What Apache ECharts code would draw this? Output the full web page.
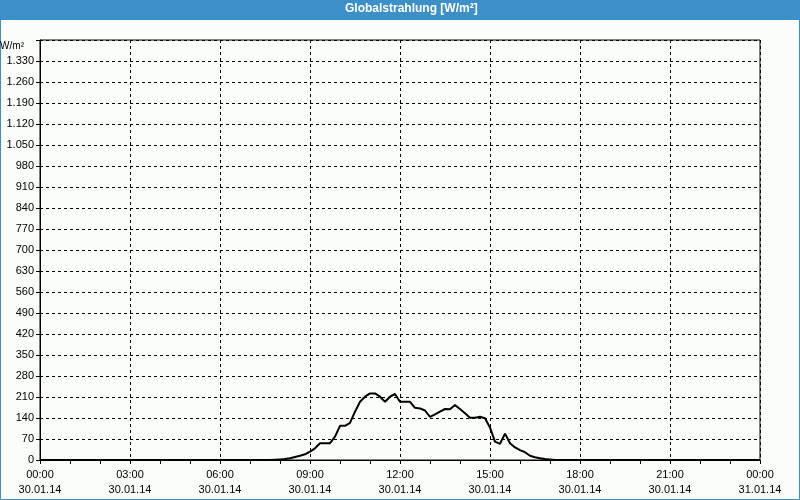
<!DOCTYPE html>
<html>
<head>
<meta charset="utf-8">
<script src="https://cdn.jsdelivr.net/npm/echarts@6/dist/echarts.min.js"></script>
<style>
html,body{margin:0;padding:0;background:#fbfdfb;}
#c{width:800px;height:500px;}
</style>
</head>
<body>
<div id="c"></div>
<script>
var chartTitle = 'Globalstrahlung [W/m²]';
var unitLabel = 'W/m²';
var xTickLabels = ['00:00\n30.01.14','03:00\n30.01.14','06:00\n30.01.14','09:00\n30.01.14','12:00\n30.01.14','15:00\n30.01.14','18:00\n30.01.14','21:00\n30.01.14','00:00\n31.01.14'];
var times = ['00:00','07:40','07:50','08:00','08:10','08:20','08:30','08:40','08:50',
  '09:00','09:10','09:20','09:30','09:40','09:50','10:00','10:10','10:20','10:30','10:40','10:50',
  '11:00','11:10','11:20','11:30','11:40','11:50','12:00','12:10','12:20','12:30','12:40','12:50',
  '13:00','13:10','13:20','13:30','13:40','13:50','14:00','14:10','14:20','14:30','14:40','14:50',
  '15:00','15:10','15:20','15:30','15:40','15:50','16:00','16:10','16:20','16:30','16:40','16:50',
  '17:00','17:10','24:00'];
var radiation = [0,0,1,2,3,6,10,14,19,
  28,39,56,56,56,78,114,114,124,161,194,211,
  222,222,211,194,211,220,194,194,194,174,172,165,
  144,152,161,170,169,183,170,156,141,141,144,139,
  108,61,54,88,56,42,33,26,14,9,6,3,
  2,0,0];

function toMinutes(s){var p=s.split(':');return (+p[0])*60+(+p[1]);}
var seriesData = times.map(function(t,i){return [toMinutes(t), radiation[i]];});

function fmtY(v){
  if (v >= 1400) return '';
  if (v >= 1000) { var s = String(v); return s.slice(0, s.length-3) + '.' + s.slice(-3); }
  return String(v);
}

var font = 'Liberation Sans, Arial, sans-serif';
var chart = echarts.init(document.getElementById('c'), null, {renderer:'canvas'});
chart.setOption({
  animation:false,
  backgroundColor:'#fbfdfb',
  graphic:[
    {type:'rect', shape:{x:0, y:0, width:800, height:20}, style:{fill:'#3d8fc7'}, z:0},
    {type:'rect', shape:{x:0.5, y:0.5, width:799, height:499}, style:{fill:null, stroke:'#3d8fc7', lineWidth:1}, z:0},
    {type:'text', x:345, y:3, style:{text:chartTitle, fill:'#ffffff', font:'bold 12px ' + font}, z:1},
    {type:'text', x:24, y:41, style:{text:unitLabel, fill:'#000', font:'10px ' + font, align:'right'}, z:1}
  ],
  grid:{left:40, right:40, top:40, bottom:40, show:true, borderColor:'#000', borderWidth:1, backgroundColor:'transparent'},
  xAxis:{
    type:'value', min:0, max:1440, interval:180,
    axisLine:{show:true, lineStyle:{color:'#000', width:1}},
    axisTick:{show:true, length:4, lineStyle:{color:'#000'}},
    minorTick:{show:true, splitNumber:3, length:4, lineStyle:{color:'#000'}},
    splitLine:{show:true, lineStyle:{color:'#000', type:[3,3], width:1}},
    axisLabel:{color:'#000', fontFamily:font, fontSize:11, lineHeight:15, margin:7,
      formatter:function(v){return xTickLabels[Math.round(v/180)] || '';}}
  },
  yAxis:{
    type:'value', min:0, max:1400, interval:70,
    axisLine:{show:true, lineStyle:{color:'#000', width:1}},
    axisTick:{show:true, length:4, lineStyle:{color:'#000'}},
    splitLine:{show:true, lineStyle:{color:'#000', type:[3,3], width:1}},
    axisLabel:{color:'#000', fontFamily:font, fontSize:11, margin:6, formatter:fmtY}
  },
  series:[{
    type:'line', data:seriesData, showSymbol:false, symbol:'none',
    lineStyle:{color:'#000', width:2}, itemStyle:{color:'#000'}
  }]
});
</script>
</body>
</html>
